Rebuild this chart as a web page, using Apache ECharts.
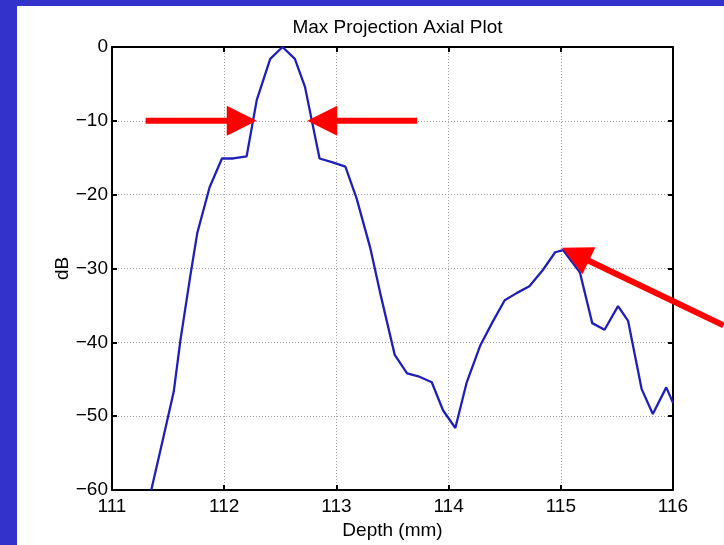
<!DOCTYPE html>
<html>
<head>
<meta charset="utf-8">
<script src="https://cdn.jsdelivr.net/npm/echarts@6/dist/echarts.min.js"></script>
<style>
  html, body { margin: 0; padding: 0; width: 724px; height: 545px; background: #3333cc; overflow: hidden; }
  #chart { position: absolute; left: 17px; top: 6px; width: 707px; height: 539px; background: #ffffff; }
</style>
</head>
<body>
<div id="chart"></div>
<script>
// Axial profile through the maximum projection (depth in mm, level in dB)
const depthMm = [111.35, 111.45, 111.55, 111.61, 111.70, 111.76, 111.87, 111.98, 112.08, 112.20,
                 112.29, 112.41, 112.52, 112.63, 112.72, 112.85, 112.96, 113.08, 113.18, 113.30,
                 113.39, 113.52, 113.63, 113.73, 113.85, 113.95, 114.06, 114.16, 114.28, 114.39,
                 114.50, 114.61, 114.72, 114.84, 114.95, 115.02, 115.17, 115.28, 115.39, 115.51,
                 115.60, 115.72, 115.82, 115.94, 116.00];
const levelDb = [-60, -53.4, -46.7, -39.7, -30.8, -25.2, -19.0, -15.1, -15.1, -14.8,
                 -7.2, -1.6, 0, -1.6, -5.4, -15.1, -15.6, -16.2, -20.5, -27.1,
                 -33.3, -41.7, -44.2, -44.6, -45.4, -49.2, -51.6, -45.5, -40.5, -37.3,
                 -34.3, -33.3, -32.4, -30.2, -27.8, -27.5, -30.5, -37.4, -38.3, -35.1,
                 -37.1, -46.3, -49.7, -46.1, -48.2];

// Tick values
const depthTicks = [111, 112, 113, 114, 115, 116];
const dbTicks = [-60, -50, -40, -30, -20, -10, 0];

// Annotation arrows (tail -> tip, in depth/dB units)
const arrowTails = [[111.30, -10], [113.72, -10], [116.45, -37.7]];
const arrowTips  = [[112.29, -10], [112.74, -10], [115.01, -27.2]];

const FONT = 'Liberation Sans, Arial, Helvetica, sans-serif';
const chart = echarts.init(document.getElementById('chart'));

const minus = v => String(v).replace('-', '\u2212');
const frameAxisCommon = {
  axisLine: { show: true, onZero: false, lineStyle: { color: '#000', width: 2 } },
  axisTick: { show: true, inside: true, length: 5, lineStyle: { color: '#000', width: 2 } },
  splitLine: { show: true, lineStyle: { color: '#a0a0a0', type: [1, 2], width: 1 } }
};

chart.setOption({
  animation: false,
  title: {
    text: 'Max Projection Axial Plot',
    left: 375.5,
    top: 7,
    textAlign: 'center',
    textStyle: { fontFamily: FONT, fontSize: 19, fontWeight: 'normal', color: '#000' }
  },
  grid: { left: 95, top: 41, width: 561, height: 443, containLabel: false },
  xAxis: [
    Object.assign({
      type: 'value', position: 'bottom',
      min: depthTicks[0], max: depthTicks[depthTicks.length - 1], interval: 1,
      name: 'Depth (mm)', nameLocation: 'middle', nameGap: 26,
      nameTextStyle: { fontFamily: FONT, fontSize: 19, color: '#000' },
      axisLabel: { margin: 7, fontFamily: FONT, fontSize: 19, color: '#000' }
    }, frameAxisCommon),
    Object.assign({
      type: 'value', position: 'top',
      min: depthTicks[0], max: depthTicks[depthTicks.length - 1], interval: 1,
      axisLabel: { show: false }
    }, frameAxisCommon, { splitLine: { show: false } })
  ],
  yAxis: [
    Object.assign({
      type: 'value', position: 'left',
      min: dbTicks[0], max: dbTicks[dbTicks.length - 1], interval: 10,
      name: 'dB', nameLocation: 'middle', nameGap: 40, nameRotate: 90,
      nameMoveOverlap: false,
      nameTextStyle: { fontFamily: FONT, fontSize: 19, color: '#000' },
      axisLabel: { margin: 4, fontFamily: FONT, fontSize: 19, color: '#000', formatter: minus }
    }, frameAxisCommon),
    Object.assign({
      type: 'value', position: 'right',
      min: dbTicks[0], max: dbTicks[dbTicks.length - 1], interval: 10,
      axisLabel: { show: false }
    }, frameAxisCommon, { splitLine: { show: false } })
  ],
  series: [{
    type: 'line',
    xAxisIndex: 0, yAxisIndex: 0,
    data: depthMm.map((d, i) => [d, levelDb[i]]),
    showSymbol: false,
    clip: true,
    lineStyle: { color: '#2020b8', width: 2.3 },
    z: 3
  }]
});

// Red arrows placed in data space through the chart's own coordinate conversion
function arrowGraphics() {
  const out = [];
  const headLen = 30, headHalf = 15, shaftW = 6;
  arrowTails.forEach((tailData, i) => {
    const tail = chart.convertToPixel({ gridIndex: 0 }, tailData);
    const tip = chart.convertToPixel({ gridIndex: 0 }, arrowTips[i]);
    const dx = tip[0] - tail[0], dy = tip[1] - tail[1];
    const len = Math.hypot(dx, dy);
    const ux = dx / len, uy = dy / len;
    const nx = -uy, ny = ux;
    const bx = tip[0] - ux * headLen, by = tip[1] - uy * headLen;
    out.push({
      type: 'line', z: 100,
      shape: { x1: tail[0], y1: tail[1], x2: bx + ux * 2, y2: by + uy * 2 },
      style: { stroke: '#ff0000', lineWidth: shaftW }
    });
    out.push({
      type: 'polygon', z: 100,
      shape: { points: [[tip[0], tip[1]], [bx + nx * headHalf, by + ny * headHalf], [bx - nx * headHalf, by - ny * headHalf]] },
      style: { fill: '#ff0000' }
    });
  });
  return out;
}
chart.setOption({ graphic: { elements: arrowGraphics() } });
</script>
</body>
</html>
